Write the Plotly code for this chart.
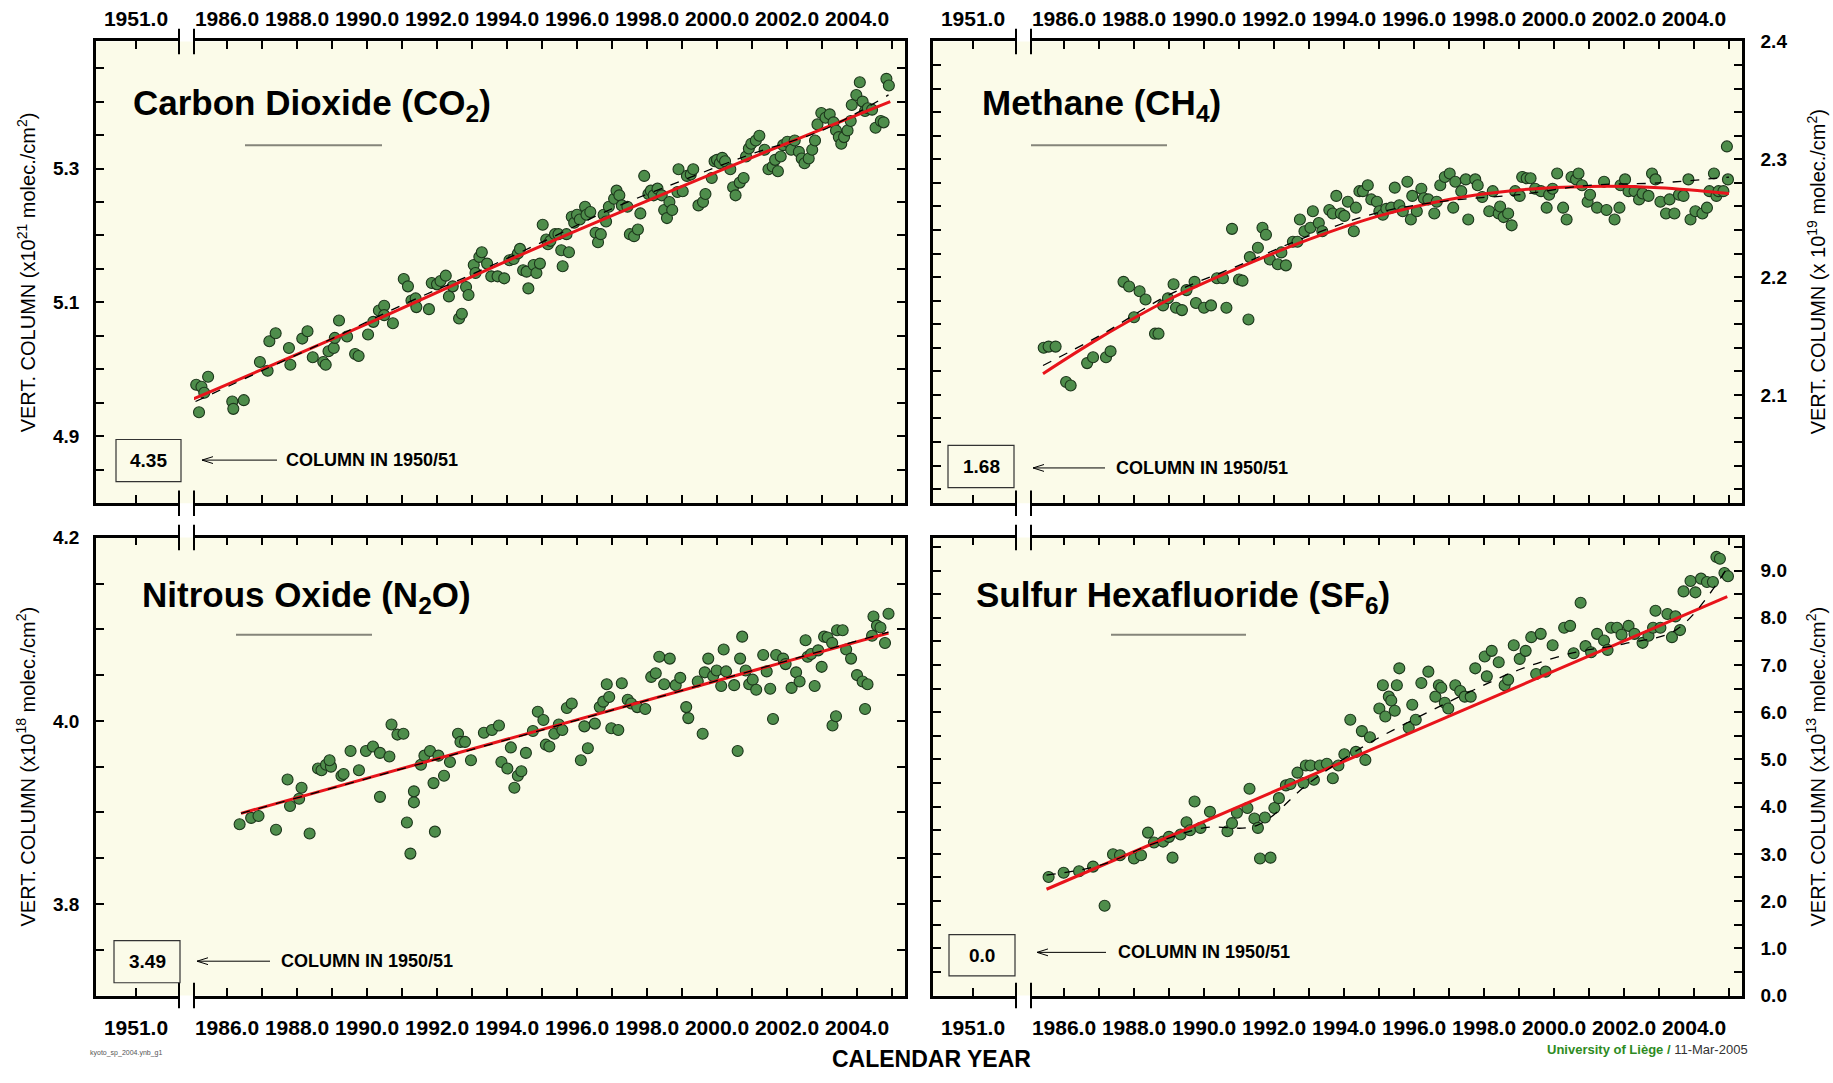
import plotly.graph_objects as go

W, H = 1833, 1083

# ---------------- DATA ----------------
co2_year = [1985.12, 1985.27, 1985.46, 1985.35, 1985.20, 1986.15, 1986.18, 1986.48, 1986.94, 1987.16,
            1987.21, 1987.39, 1987.77, 1987.81, 1988.15, 1988.30, 1988.45, 1988.75, 1988.82, 1988.90,
            1989.05, 1989.08, 1989.20, 1989.43, 1989.66, 1989.76, 1990.03, 1990.18, 1990.34, 1990.49,
            1990.49, 1990.74, 1991.05, 1991.17, 1991.27, 1991.39, 1991.41, 1991.77, 1991.85, 1992.00,
            1992.10, 1992.25, 1992.34, 1992.45, 1992.63, 1992.71, 1992.83, 1992.90, 1993.05, 1993.10,
            1993.21, 1993.28, 1993.43, 1993.55, 1993.73, 1993.92, 1994.07, 1994.19, 1994.31, 1994.37,
            1994.46, 1994.56, 1994.61, 1994.76, 1994.84, 1994.94, 1995.02, 1995.12, 1995.17, 1995.24,
            1995.37, 1995.47, 1995.55, 1995.59, 1995.70, 1995.77, 1995.85, 1995.92, 1996.00, 1996.08,
            1996.23, 1996.27, 1996.38, 1996.53, 1996.60, 1996.68, 1996.76, 1996.83, 1996.91, 1997.06,
            1997.13, 1997.21, 1997.28, 1997.44, 1997.51, 1997.63, 1997.74, 1997.81, 1997.92, 1998.04,
            1998.11, 1998.19, 1998.30, 1998.42, 1998.49, 1998.57, 1998.64, 1998.72, 1998.87, 1998.90,
            1999.02, 1999.14, 1999.25, 1999.32, 1999.47, 1999.60, 1999.67, 1999.85, 1999.93, 2000.00,
            2000.08, 2000.15, 2000.23, 2000.38, 2000.46, 2000.53, 2000.65, 2000.76, 2000.83, 2000.91,
            2000.98, 2001.11, 2001.21, 2001.36, 2001.47, 2001.59, 2001.66, 2001.74, 2001.82, 2001.89,
            2002.01, 2002.12, 2002.22, 2002.34, 2002.42, 2002.50, 2002.62, 2002.72, 2002.80, 2002.87,
            2002.98, 2003.10, 2003.22, 2003.33, 2003.40, 2003.48, 2003.55, 2003.63, 2003.73, 2003.82,
            2003.85, 2003.98, 2004.08, 2004.16, 2004.23, 2004.31, 2004.43, 2004.53, 2004.68, 2004.76,
            2004.84, 2004.91]
co2_val = [4.977, 4.974, 4.989, 4.965, 4.936, 4.952, 4.941, 4.954, 5.011, 4.998,
           5.042, 5.054, 5.032, 5.007, 5.046, 5.057, 5.018, 5.011, 5.007, 5.027,
           5.032, 5.047, 5.073, 5.049, 5.023, 5.020, 5.052, 5.071, 5.088, 5.095,
           5.081, 5.069, 5.135, 5.124, 5.103, 5.106, 5.093, 5.090, 5.129, 5.127,
           5.132, 5.140, 5.109, 5.124, 5.076, 5.083, 5.123, 5.111, 5.156, 5.144,
           5.168, 5.175, 5.158, 5.139, 5.139, 5.136, 5.163, 5.165, 5.173, 5.180,
           5.148, 5.146, 5.121, 5.156, 5.144, 5.158, 5.216, 5.194, 5.187, 5.192,
           5.202, 5.202, 5.178, 5.154, 5.202, 5.175, 5.228, 5.219, 5.231, 5.224,
           5.243, 5.231, 5.235, 5.204, 5.190, 5.202, 5.231, 5.221, 5.243, 5.255,
           5.267, 5.260, 5.245, 5.243, 5.202, 5.199, 5.209, 5.233, 5.289, 5.262,
           5.267, 5.260, 5.270, 5.260, 5.238, 5.226, 5.250, 5.238, 5.265, 5.299,
           5.266, 5.289, 5.291, 5.299, 5.245, 5.250, 5.262, 5.286, 5.311, 5.313,
           5.308, 5.316, 5.311, 5.299, 5.272, 5.260, 5.279, 5.286, 5.318, 5.330,
           5.337, 5.342, 5.349, 5.328, 5.299, 5.303, 5.313, 5.296, 5.318, 5.335,
           5.340, 5.328, 5.342, 5.325, 5.315, 5.308, 5.315, 5.328, 5.342, 5.366,
           5.383, 5.376, 5.381, 5.369, 5.357, 5.347, 5.337, 5.347, 5.357, 5.371,
           5.395, 5.410, 5.429, 5.400, 5.386, 5.390, 5.388, 5.361, 5.371, 5.369,
           5.434, 5.424]
co2_fit_year = [1985.0, 1990.0, 1995.0, 2000.0, 2004.95]
co2_fit_val = [4.955, 5.068, 5.185, 5.295, 5.400]
co2_mean_year = [1985.1, 1987.0, 1989.0, 1991.0, 1993.0, 1995.0, 1997.0, 1999.0, 2001.0, 2003.0, 2004.9]
co2_mean_val = [4.952, 4.998, 5.046, 5.096, 5.142, 5.190, 5.240, 5.282, 5.322, 5.357, 5.410]

ch4_year = [1985.42, 1985.56, 1985.76, 1986.06, 1986.19, 1986.66, 1986.83, 1987.20, 1987.33, 1987.70,
            1987.86, 1988.00, 1988.16, 1988.33, 1988.60, 1988.70, 1988.83, 1988.97, 1989.13, 1989.20,
            1989.37, 1989.50, 1989.73, 1989.77, 1990.00, 1990.20, 1990.37, 1990.54, 1990.64, 1990.80,
            1991.00, 1991.10, 1991.27, 1991.31, 1991.54, 1991.67, 1991.77, 1991.88, 1992.11, 1992.21,
            1992.34, 1992.54, 1992.67, 1992.74, 1992.87, 1993.04, 1993.11, 1993.28, 1993.38, 1993.58,
            1993.68, 1993.78, 1993.91, 1994.01, 1994.11, 1994.28, 1994.34, 1994.44, 1994.54, 1994.68,
            1994.78, 1994.94, 1995.01, 1995.11, 1995.21, 1995.35, 1995.45, 1995.58, 1995.68, 1995.81,
            1995.91, 1995.95, 1996.08, 1996.21, 1996.28, 1996.41, 1996.58, 1996.65, 1996.75, 1996.88,
            1997.02, 1997.12, 1997.18, 1997.35, 1997.48, 1997.55, 1997.75, 1997.82, 1997.95, 1998.15,
            1998.25, 1998.42, 1998.46, 1998.56, 1998.69, 1998.79, 1998.89, 1999.02, 1999.09, 1999.22,
            1999.33, 1999.46, 1999.63, 1999.79, 1999.86, 1999.96, 2000.09, 2000.26, 2000.36, 2000.50,
            2000.63, 2000.70, 2000.80, 2000.96, 2001.03, 2001.23, 2001.43, 2001.50, 2001.73, 2001.87,
            2001.90, 2002.03, 2002.13, 2002.30, 2002.43, 2002.53, 2002.70, 2002.80, 2002.90, 2003.04,
            2003.20, 2003.30, 2003.44, 2003.57, 2003.70, 2003.84, 2003.90, 2004.04, 2004.24, 2004.37,
            2004.44, 2004.57, 2004.64, 2004.70, 2004.84, 2004.97, 2004.94]
ch4_val = [2.140, 2.141, 2.141, 2.111, 2.108, 2.127, 2.132, 2.132, 2.137, 2.196,
           2.192, 2.166, 2.188, 2.181, 2.152, 2.152, 2.176, 2.182, 2.194, 2.174,
           2.172, 2.189, 2.196, 2.178, 2.174, 2.176, 2.199, 2.199, 2.174, 2.241,
           2.198, 2.197, 2.164, 2.217, 2.225, 2.242, 2.236, 2.215, 2.211, 2.221,
           2.210, 2.230, 2.230, 2.249, 2.239, 2.242, 2.256, 2.246, 2.239, 2.257,
           2.254, 2.269, 2.254, 2.252, 2.264, 2.239, 2.259, 2.273, 2.273, 2.278,
           2.266, 2.264, 2.256, 2.253, 2.258, 2.259, 2.276, 2.261, 2.256, 2.281,
           2.249, 2.269, 2.256, 2.275, 2.267, 2.266, 2.254, 2.264, 2.278, 2.285,
           2.288, 2.259, 2.281, 2.273, 2.283, 2.249, 2.283, 2.278, 2.268, 2.256,
           2.273, 2.254, 2.260, 2.251, 2.254, 2.244, 2.273, 2.269, 2.285, 2.284,
           2.284, 2.275, 2.273, 2.259, 2.270, 2.275, 2.288, 2.259, 2.249, 2.285,
           2.283, 2.288, 2.278, 2.264, 2.270, 2.259, 2.281, 2.257, 2.249, 2.259,
           2.278, 2.283, 2.273, 2.273, 2.266, 2.271, 2.269, 2.288, 2.283, 2.264,
           2.254, 2.266, 2.254, 2.270, 2.269, 2.283, 2.249, 2.256, 2.254, 2.259,
           2.273, 2.288, 2.269, 2.273, 2.273, 2.283, 2.311]
ch4_fit_year = [1985.4, 1987.0, 1989.0, 1991.0, 1993.0, 1995.0, 1997.0, 1999.0, 2001.0, 2003.0, 2005.0]
ch4_fit_val = [2.118, 2.148, 2.181, 2.208, 2.232, 2.252, 2.266, 2.274, 2.277, 2.276, 2.271]
ch4_mean_year = [1985.4, 1987.0, 1989.0, 1991.0, 1993.0, 1995.0, 1997.0, 1999.0, 2001.0, 2003.0, 2005.0]
ch4_mean_val = [2.125, 2.150, 2.185, 2.210, 2.235, 2.255, 2.265, 2.270, 2.278, 2.280, 2.285]

n2o_year = [1986.36, 1986.69, 1986.90, 1987.40, 1987.73, 1987.80, 1988.06, 1988.13, 1988.36, 1988.60,
            1988.70, 1988.83, 1988.97, 1988.93, 1989.27, 1989.33, 1989.53, 1989.77, 1989.97, 1990.17,
            1990.37, 1990.37, 1990.64, 1990.70, 1990.87, 1991.04, 1991.14, 1991.24, 1991.34, 1991.34,
            1991.54, 1991.64, 1991.80, 1991.90, 1991.94, 1992.04, 1992.20, 1992.37, 1992.60, 1992.67,
            1992.80, 1992.97, 1993.34, 1993.57, 1993.77, 1993.84, 1994.01, 1994.11, 1994.21, 1994.31,
            1994.41, 1994.54, 1994.74, 1994.88, 1995.04, 1995.11, 1995.21, 1995.35, 1995.48, 1995.58,
            1995.71, 1995.85, 1996.11, 1996.21, 1996.31, 1996.51, 1996.65, 1996.75, 1996.85, 1996.92,
            1996.98, 1997.18, 1997.28, 1997.45, 1997.55, 1997.72, 1997.95, 1998.12, 1998.25, 1998.35,
            1998.49, 1998.65, 1998.82, 1998.95, 1999.12, 1999.18, 1999.45, 1999.59, 1999.65, 1999.75,
            1999.89, 1999.99, 2000.12, 2000.19, 2000.26, 2000.49, 2000.59, 2000.66, 2000.72, 2000.82,
            2000.92, 2001.02, 2001.12, 2001.32, 2001.42, 2001.52, 2001.69, 2001.89, 2001.96, 2002.13,
            2002.26, 2002.36, 2002.53, 2002.59, 2002.69, 2002.79, 2002.89, 2002.99, 2003.06, 2003.16,
            2003.29, 2003.43, 2003.59, 2003.69, 2003.83, 2004.00, 2004.16, 2004.23, 2004.30, 2004.43,
            2004.47, 2004.57, 2004.67, 2004.80, 2004.90, 2003.30, 2003.40, 2001.60]
n2o_val = [3.887, 3.894, 3.896, 3.881, 3.936, 3.907, 3.915, 3.927, 3.877, 3.948,
           3.946, 3.952, 3.950, 3.957, 3.940, 3.942, 3.967, 3.946, 3.967, 3.972,
           3.917, 3.965, 3.961, 3.996, 3.985, 3.986, 3.889, 3.855, 3.923, 3.911,
           3.952, 3.962, 3.967, 3.932, 3.879, 3.962, 3.940, 3.955, 3.986, 3.977,
           3.977, 3.957, 3.987, 3.990, 3.995, 3.955, 3.948, 3.971, 3.927, 3.940,
           3.945, 3.965, 3.989, 4.010, 4.001, 3.974, 3.972, 3.986, 3.996, 3.990,
           4.014, 4.019, 3.957, 3.994, 3.970, 3.997, 4.015, 4.021, 4.040, 4.026,
           3.992, 3.990, 4.041, 4.023, 4.019, 4.015, 4.013, 4.048, 4.052, 4.070,
           4.040, 4.068, 4.039, 4.047, 4.015, 4.003, 4.043, 3.986, 4.053, 4.068,
           4.049, 4.055, 4.038, 4.078, 4.054, 4.039, 3.967, 4.068, 4.092, 4.055,
           4.040, 4.045, 4.034, 4.072, 4.054, 4.035, 4.072, 4.068, 4.062, 4.036,
           4.053, 4.043, 4.088, 4.070, 4.073, 4.038, 4.077, 4.059, 4.092, 4.091,
           4.085, 4.099, 4.099, 4.078, 4.068, 4.050, 4.043, 4.013, 4.040, 4.093,
           4.114, 4.104, 4.102, 4.085, 4.117, 3.995, 4.005, 4.002]
n2o_fit_year = [1986.4, 2004.9]
n2o_fit_val = [3.899, 4.096]
n2o_mean_year = [1986.4, 1990.0, 1995.0, 2000.0, 2004.9]
n2o_mean_val = [3.899, 3.937, 3.990, 4.044, 4.097]

sf6_year = [1985.56, 1985.99, 1986.43, 1986.83, 1987.16, 1987.40, 1987.60, 1988.00, 1988.20, 1988.40,
            1988.57, 1988.83, 1989.00, 1989.10, 1989.33, 1989.50, 1989.60, 1989.73, 1989.90, 1990.17,
            1990.67, 1990.80, 1990.94, 1991.24, 1991.30, 1991.44, 1991.54, 1991.60, 1991.74, 1991.90,
            1992.01, 1992.14, 1992.34, 1992.47, 1992.67, 1992.84, 1992.91, 1993.04, 1993.14, 1993.31,
            1993.51, 1993.68, 1993.84, 1994.01, 1994.18, 1994.34, 1994.51, 1994.61, 1994.74, 1995.01,
            1995.11, 1995.18, 1995.28, 1995.35, 1995.45, 1995.51, 1995.58, 1995.85, 1995.95, 1996.05,
            1996.21, 1996.41, 1996.61, 1996.71, 1996.78, 1996.88, 1996.98, 1997.18, 1997.32, 1997.45,
            1997.62, 1997.75, 1998.02, 1998.08, 1998.22, 1998.42, 1998.59, 1998.69, 1998.85, 1999.02,
            1999.19, 1999.35, 1999.49, 1999.62, 1999.76, 1999.96, 2000.29, 2000.46, 2000.56, 2000.76,
            2000.90, 2001.06, 2001.23, 2001.43, 2001.53, 2001.63, 2001.80, 2001.93, 2002.13, 2002.30,
            2002.53, 2002.70, 2002.83, 2002.90, 2003.04, 2003.24, 2003.37, 2003.47, 2003.60, 2003.70,
            2003.90, 2004.04, 2004.20, 2004.37, 2004.54, 2004.64, 2004.74, 2004.87, 2004.97]
sf6_val = [2.51, 2.60, 2.63, 2.73, 1.90, 2.99, 2.97, 2.90, 2.97, 3.45,
           3.24, 3.26, 3.36, 2.92, 3.41, 3.67, 3.50, 4.11, 3.55, 3.89,
           3.48, 3.65, 3.87, 3.97, 4.38, 3.75, 3.55, 2.90, 3.77, 2.92,
           3.97, 4.18, 4.45, 4.48, 4.72, 4.50, 4.87, 4.87, 4.57, 4.87,
           4.91, 4.60, 4.87, 5.11, 5.84, 5.16, 5.60, 4.99, 5.47, 6.08,
           6.57, 5.91, 6.33, 6.25, 6.03, 6.57, 6.93, 5.67, 6.16, 5.84,
           6.62, 6.86, 6.33, 6.57, 6.52, 6.20, 6.08, 6.57, 6.45, 6.33,
           6.33, 6.93, 7.18, 6.76, 7.30, 7.06, 6.57, 6.69, 7.42, 7.13,
           7.30, 7.59, 6.81, 7.66, 6.86, 7.42, 7.79, 7.83, 7.25, 8.32,
           7.40, 7.27, 7.66, 7.52, 7.32, 7.79, 7.79, 7.64, 7.83, 7.66,
           7.47, 7.62, 7.79, 8.15, 7.79, 8.08, 7.59, 8.03, 7.74, 8.56,
           8.78, 8.54, 8.83, 8.76, 8.76, 9.29, 9.25, 8.95, 8.88]
sf6_fit_year = [1985.5, 2004.95]
sf6_fit_val = [2.25, 8.45]
sf6_mean_year = [1985.5, 1987.0, 1988.5, 1990.0, 1991.5, 1993.0, 1994.5, 1996.0, 1997.5, 1999.0,
                 2000.5, 2002.0, 2003.5, 2004.9]
sf6_mean_val = [2.55, 2.75, 3.20, 3.55, 3.60, 4.50, 5.25, 5.85, 6.40, 6.90, 7.25, 7.45, 7.75, 9.00]

titles = ["Carbon Dioxide (CO<sub>2</sub>)", "Methane (CH<sub>4</sub>)",
          "Nitrous Oxide (N<sub>2</sub>O)", "Sulfur Hexafluoride (SF<sub>6</sub>)"]
ytitles = ["VERT. COLUMN (x10<sup>21</sup> molec./cm<sup>2</sup>)",
           "VERT. COLUMN (x 10<sup>19</sup> molec./cm<sup>2</sup>)",
           "VERT. COLUMN (x10<sup>18</sup> molec./cm<sup>2</sup>)",
           "VERT. COLUMN (x10<sup>13</sup> molec./cm<sup>2</sup>)"]
col1950 = ["4.35", "1.68", "3.49", "0.0"]
x_break_label = "1951.0"

# ---------------- STYLE / LAYOUT ----------------
BG = "#FBFBE9"
GREEN = "#4E8D4B"
EDGE = "#1C361B"
RED = "#E8141B"
FONT = "Liberation Sans, Arial, Helvetica, sans-serif"


def fx(p):
    return p / W


def fy(p):
    return 1 - p / H


COLS = [96, 933]
ROWS = [(32, 503), (538, 1005)]

panels = [
    dict(col=0, row=0, x=co2_year, y=co2_val, fx_=co2_fit_year, fy_=co2_fit_val,
         mx=co2_mean_year, my=co2_mean_val, yrange=[4.80, 5.49], tick0=4.9, dtick=0.2, minor=0.05,
         title_xy=(131, 97), uline=(245, 382, 138), box=(116, 438, 181, 481),
         arrow=(202, 277, 459), coltext=(284, 459)),
    dict(col=1, row=0, x=ch4_year, y=ch4_val, fx_=ch4_fit_year, fy_=ch4_fit_val,
         mx=ch4_mean_year, my=ch4_mean_val, yrange=[2.008, 2.4002], tick0=2.1, dtick=0.1, minor=0.02,
         title_xy=(980, 97), uline=(1031, 1167, 138), box=(948, 444, 1014, 487),
         arrow=(1033, 1105, 467), coltext=(1114, 467)),
    dict(col=0, row=1, x=n2o_year, y=n2o_val, fx_=n2o_fit_year, fy_=n2o_fit_val,
         mx=n2o_mean_year, my=n2o_mean_val, yrange=[3.70, 4.2002], tick0=3.8, dtick=0.2, minor=0.05,
         title_xy=(140, 599), uline=(236, 372, 637), box=(114, 949, 180, 992),
         arrow=(197, 270, 970), coltext=(279, 970)),
    dict(col=1, row=1, x=sf6_year, y=sf6_val, fx_=sf6_fit_year, fy_=sf6_fit_val,
         mx=sf6_mean_year, my=sf6_mean_val, yrange=[-0.001, 9.7], tick0=0.0, dtick=1.0, minor=0.5,
         title_xy=(974, 599), uline=(1111, 1246, 637), box=(949, 943, 1015, 985),
         arrow=(1037, 1106, 961), coltext=(1116, 961)),
]


def aid(letter, n):
    return letter if n == 1 else f"{letter}{n}"


def akey(letter, n):
    return f"{letter}axis" if n == 1 else f"{letter}axis{n}"


fig = go.Figure()
layout = dict(width=W, height=H, autosize=False, margin=dict(l=0, r=0, t=0, b=0),
              paper_bgcolor="white", plot_bgcolor="rgba(0,0,0,0)", showlegend=False)
shapes = []
annotations = []

common = dict(showgrid=False, zeroline=False, showline=True, linecolor="black", linewidth=2.5,
              ticks="inside", ticklen=8, tickwidth=1.5, tickcolor="black")
XTF = dict(family=FONT, size=21, color="black", weight="bold")
YTF = dict(family=FONT, size=19, color="black", weight="bold")

for i, p in enumerate(panels):
    xm, xl, ym, yr = 2 * i + 1, 2 * i + 2, 2 * i + 1, 2 * i + 2
    x0 = COLS[p["col"]]
    yt, yb = ROWS[p["row"]]
    side = "top" if p["row"] == 0 else "bottom"
    stand = 4 if p["row"] == 0 else 12

    layout[akey("x", xm)] = dict(
        **common, domain=[fx(x0 + 98), fx(x0 + 809)], range=[1985.057, 2005.371],
        anchor=aid("y", ym), side=side, mirror="ticks", tick0=1986, dtick=2, tickformat=".1f",
        minor=dict(dtick=1, tick0=1986, ticks="inside", ticklen=8, tickwidth=1.5, tickcolor="black"),
        tickfont=XTF, tickangle=0, ticklabelstandoff=stand)
    layout[akey("x", xl)] = dict(
        **common, domain=[fx(x0), fx(x0 + 83)], range=[1949.857, 1952.229],
        anchor=aid("y", ym), side=side, mirror="ticks", tickvals=[1951], ticktext=[x_break_label],
        tickfont=XTF, tickangle=0, ticklabelstandoff=stand)
    ymin = dict(dtick=p["minor"], tick0=p["tick0"], ticks="inside", ticklen=8, tickwidth=1.5,
                tickcolor="black")
    layout[akey("y", ym)] = dict(
        **common, domain=[fy(yb), fy(yt)], range=p["yrange"], anchor=aid("x", xl), side="left",
        tick0=p["tick0"], dtick=p["dtick"], tickformat=".1f", minor=ymin, tickfont=YTF,
        showticklabels=(p["col"] == 0), ticklabelstandoff=10)
    layout[akey("y", yr)] = dict(
        **common, overlaying=aid("y", ym), range=p["yrange"], anchor=aid("x", xm), side="right",
        tick0=p["tick0"], dtick=p["dtick"], tickformat=".1f", minor=ymin, tickfont=YTF,
        showticklabels=(p["col"] == 1), ticklabelstandoff=12)

    # empty helper traces so that every axis pair is a subplot
    fig.add_trace(go.Scatter(x=[], y=[], xaxis=aid("x", xl), yaxis=aid("y", ym), hoverinfo="skip"))
    fig.add_trace(go.Scatter(x=[], y=[], xaxis=aid("x", xm), yaxis=aid("y", yr), hoverinfo="skip"))

    fig.add_trace(go.Scatter(
        x=p["x"], y=p["y"], mode="markers", xaxis=aid("x", xm), yaxis=aid("y", ym),
        marker=dict(size=11, color=GREEN, line=dict(color=EDGE, width=1.1)), cliponaxis=False))
    fig.add_trace(go.Scatter(
        x=p["fx_"], y=p["fy_"], mode="lines", xaxis=aid("x", xm), yaxis=aid("y", ym),
        line=dict(color=RED, width=3), line_shape="spline"))
    fig.add_trace(go.Scatter(
        x=p["mx"], y=p["my"], mode="lines", xaxis=aid("x", xm), yaxis=aid("y", ym),
        line=dict(color="black", width=1.3, dash="dash"), line_shape="spline"))

    # panel background
    shapes.append(dict(type="rect", xref="paper", yref="paper", layer="below",
                       x0=fx(x0), x1=fx(x0 + 809), y0=fy(yb), y1=fy(yt),
                       fillcolor=BG, line=dict(width=0)))
    # axis break marks
    for bx in (x0 + 83, x0 + 98):
        for ay in (yt, yb):
            shapes.append(dict(type="line", xref="paper", yref="paper",
                               x0=fx(bx), x1=fx(bx), y0=fy(ay - 13), y1=fy(ay + 13),
                               line=dict(color="black", width=2)))
    # title underline
    ux0, ux1, uy = p["uline"]
    shapes.append(dict(type="line", xref="paper", yref="paper", x0=fx(ux0), x1=fx(ux1),
                       y0=fy(uy), y1=fy(uy), line=dict(color="#85857A", width=2)))
    # 1950/51 box
    bx0, by0, bx1, by1 = p["box"]
    shapes.append(dict(type="rect", xref="paper", yref="paper", x0=fx(bx0), x1=fx(bx1),
                       y0=fy(by1), y1=fy(by0), line=dict(color="#333333", width=1.2)))
    annotations.append(dict(xref="paper", yref="paper", x=fx((bx0 + bx1) / 2),
                            y=fy((by0 + by1) / 2), text="<b>%s</b>" % col1950[i], showarrow=False,
                            font=dict(family=FONT, size=19, color="black"),
                            xanchor="center", yanchor="middle"))
    # arrow: shaft + open head
    hx, tx, ay_ = p["arrow"]
    shapes.append(dict(type="line", xref="paper", yref="paper", x0=fx(hx), x1=fx(tx),
                       y0=fy(ay_), y1=fy(ay_), line=dict(color="black", width=1)))
    shapes.append(dict(type="path", xref="paper", yref="paper",
                       path="M %.5f,%.5f L %.5f,%.5f L %.5f,%.5f" % (
                           fx(hx + 11), fy(ay_ - 3.5), fx(hx), fy(ay_), fx(hx + 11), fy(ay_ + 3.5)),
                       line=dict(color="black", width=1)))
    cx, cy = p["coltext"]
    annotations.append(dict(xref="paper", yref="paper", x=fx(cx), y=fy(cy),
                            text="<b>COLUMN IN 1950/51</b>", showarrow=False,
                            font=dict(family=FONT, size=18, color="black"),
                            xanchor="left", yanchor="middle"))
    tx_, ty_ = p["title_xy"]
    annotations.append(dict(xref="paper", yref="paper", x=fx(tx_), y=fy(ty_),
                            text="<b>%s</b>" % titles[i], showarrow=False,
                            font=dict(family=FONT, size=35, color="black"),
                            xanchor="left", yanchor="middle"))
    # y-axis titles
    ty_mid = (yt + yb) / 2
    tpos = 26 if p["col"] == 0 else 1816
    annotations.append(dict(xref="paper", yref="paper", x=fx(tpos), y=fy(ty_mid),
                            text=ytitles[i], showarrow=False, textangle=-90,
                            font=dict(family=FONT, size=20, color="black"),
                            xanchor="center", yanchor="middle"))

annotations.append(dict(xref="paper", yref="paper", x=fx(931), y=fy(1070),
                        text="<b>CALENDAR YEAR</b>", showarrow=False,
                        font=dict(family=FONT, size=23, color="black"),
                        xanchor="center", yanchor="middle"))
annotations.append(dict(xref="paper", yref="paper", x=fx(1750), y=fy(1060),
                        text="<b><span style='color:#2E8B22'>University of Liège /</span></b> 11-Mar-2005",
                        showarrow=False, font=dict(family=FONT, size=13, color="#333333"),
                        xanchor="right", yanchor="middle"))
annotations.append(dict(xref="paper", yref="paper", x=fx(88), y=fy(1064),
                        text="kyoto_sp_2004.ynb_g1", showarrow=False,
                        font=dict(family=FONT, size=7, color="#555555"),
                        xanchor="left", yanchor="middle"))

layout["shapes"] = shapes
layout["annotations"] = annotations
fig.update_layout(**layout)
# remove the browser's default 8 px page margin so the figure fills the window exactly
fig.write_html("out.html", config={"displayModeBar": False},
               post_script="document.body.style.margin='0';document.body.style.overflow='hidden';")
